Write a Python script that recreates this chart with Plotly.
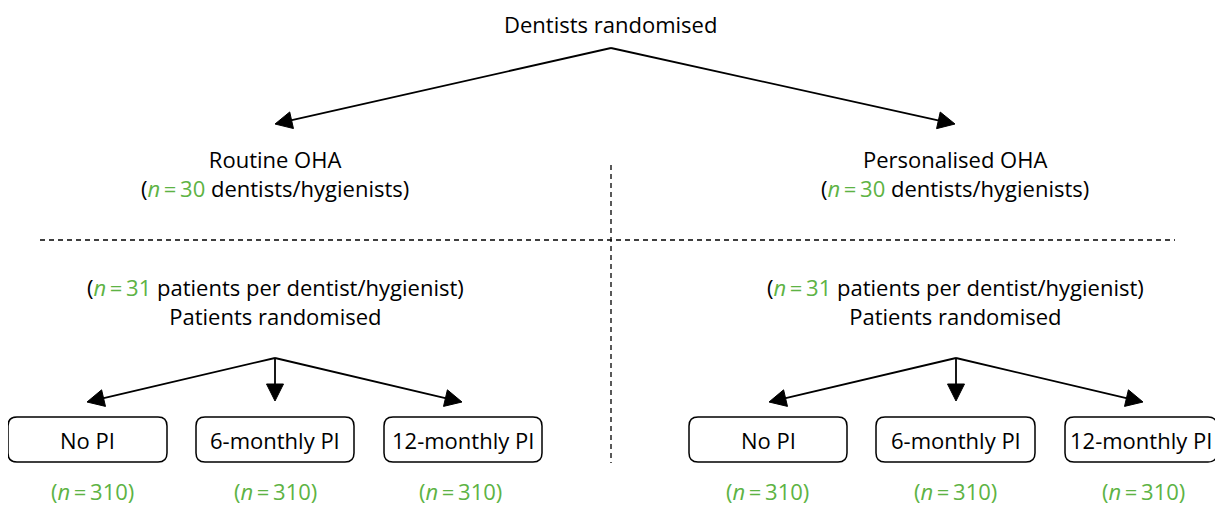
import plotly.graph_objects as go
import math

# ---- data ----
title_text = "Dentists randomised"
arm_names = ["Routine OHA", "Personalised OHA"]
arm_dentists_n = [30, 30]
patients_per_dentist = [31, 31]
pi_groups = ["No PI", "6-monthly PI", "12-monthly PI"]
group_n = [[310, 310, 310], [310, 310, 310]]

GREEN = "#5DB344"
FONT = "Open Sans"
FS = 22
W, H = 1223, 505
OFF = 8  # default page body margin

fig = go.Figure()
fig.update_xaxes(range=[OFF, W], visible=False, fixedrange=True)
fig.update_yaxes(range=[H, OFF], visible=False, fixedrange=True)

shapes = []
annotations = []

def line(x0, y0, x1, y1, width=1.8, dash=None):
    d = dict(type="line", x0=x0, y0=y0, x1=x1, y1=y1, xref="x", yref="y",
             line=dict(color="black", width=width))
    if dash:
        d["line"]["dash"] = dash
    shapes.append(d)

def arrow(x0, y0, x1, y1, hl=17, hw=8.5):
    dx, dy = x1 - x0, y1 - y0
    L = math.hypot(dx, dy)
    ux, uy = dx / L, dy / L
    bx, by = x1 - ux * hl, y1 - uy * hl
    line(x0, y0, bx + ux * 2, by + uy * 2)
    px, py = -uy, ux
    path = (f"M {x1},{y1} L {bx + px*hw},{by + py*hw} "
            f"L {bx - px*hw},{by - py*hw} Z")
    shapes.append(dict(type="path", path=path, xref="x", yref="y",
                       fillcolor="black", line=dict(color="black", width=1)))

def rrect(x0, y0, x1, y1, r=9):
    p = (f"M {x0+r},{y0} L {x1-r},{y0} Q {x1},{y0} {x1},{y0+r} "
         f"L {x1},{y1-r} Q {x1},{y1} {x1-r},{y1} L {x0+r},{y1} "
         f"Q {x0},{y1} {x0},{y1-r} L {x0},{y0+r} Q {x0},{y0} {x0+r},{y0} Z")
    shapes.append(dict(type="path", path=p, xref="x", yref="y",
                       line=dict(color="black", width=1.5), fillcolor="white"))

def text(x, y, t, color="black"):
    annotations.append(dict(x=x, y=y, xref="x", yref="y", text=t, showarrow=False,
                            font=dict(family=FONT, size=FS, color=color),
                            xanchor="center", yanchor="middle", borderpad=0))

def ntext(n):
    return f"<span style='color:{GREEN}'><i>n</i>\u2009=\u2009{n}</span>"

# top
text(610, 24, title_text)
apex = (611, 48)
arm_cx = [275, 955]
arrow(apex[0], apex[1], 275, 124)
arrow(apex[0], apex[1], 955, 124)

# separators
line(611, 165, 611, 463, width=1.3, dash="5px,4px")
line(40, 240, 1175, 240, width=1.3, dash="5px,4px")

box_x = [[(8, 167), (196, 354), (384, 542)],
         [(689, 847), (876, 1035), (1065, 1217)]]
sub_apex = [(275, 358), (956, 358)]
tip_x = [[87, 275, 462], [769, 956, 1143]]
n_cx = [[92, 275, 460], [767, 955, 1143]]

for a in range(2):
    cx = arm_cx[a]
    text(cx, 173.5, f"{arm_names[a]}<br>({ntext(arm_dentists_n[a])} dentists/hygienists)")
    text(cx, 301, f"({ntext(patients_per_dentist[a])} patients per dentist/hygienist)"
                  f"<br>Patients randomised")
    ax, ay = sub_apex[a]
    for g in range(3):
        ty = 401 if g == 1 else 402
        arrow(ax, ay, tip_x[a][g], ty)
    for g in range(3):
        x0, x1 = box_x[a][g]
        rrect(x0, 417, x1, 462)
        text((x0 + x1) / 2, 440, pi_groups[g])
        text(n_cx[a][g], 491,
             f"<span style='color:{GREEN}'>(<i>n</i>\u2009=\u2009{group_n[a][g]})</span>")

fig.update_layout(width=W - OFF, height=H - OFF, margin=dict(l=0, r=0, t=0, b=0),
                  plot_bgcolor="white", paper_bgcolor="white",
                  shapes=shapes, annotations=annotations, showlegend=False)
fig.write_html("out.html", config={"displayModeBar": False})
